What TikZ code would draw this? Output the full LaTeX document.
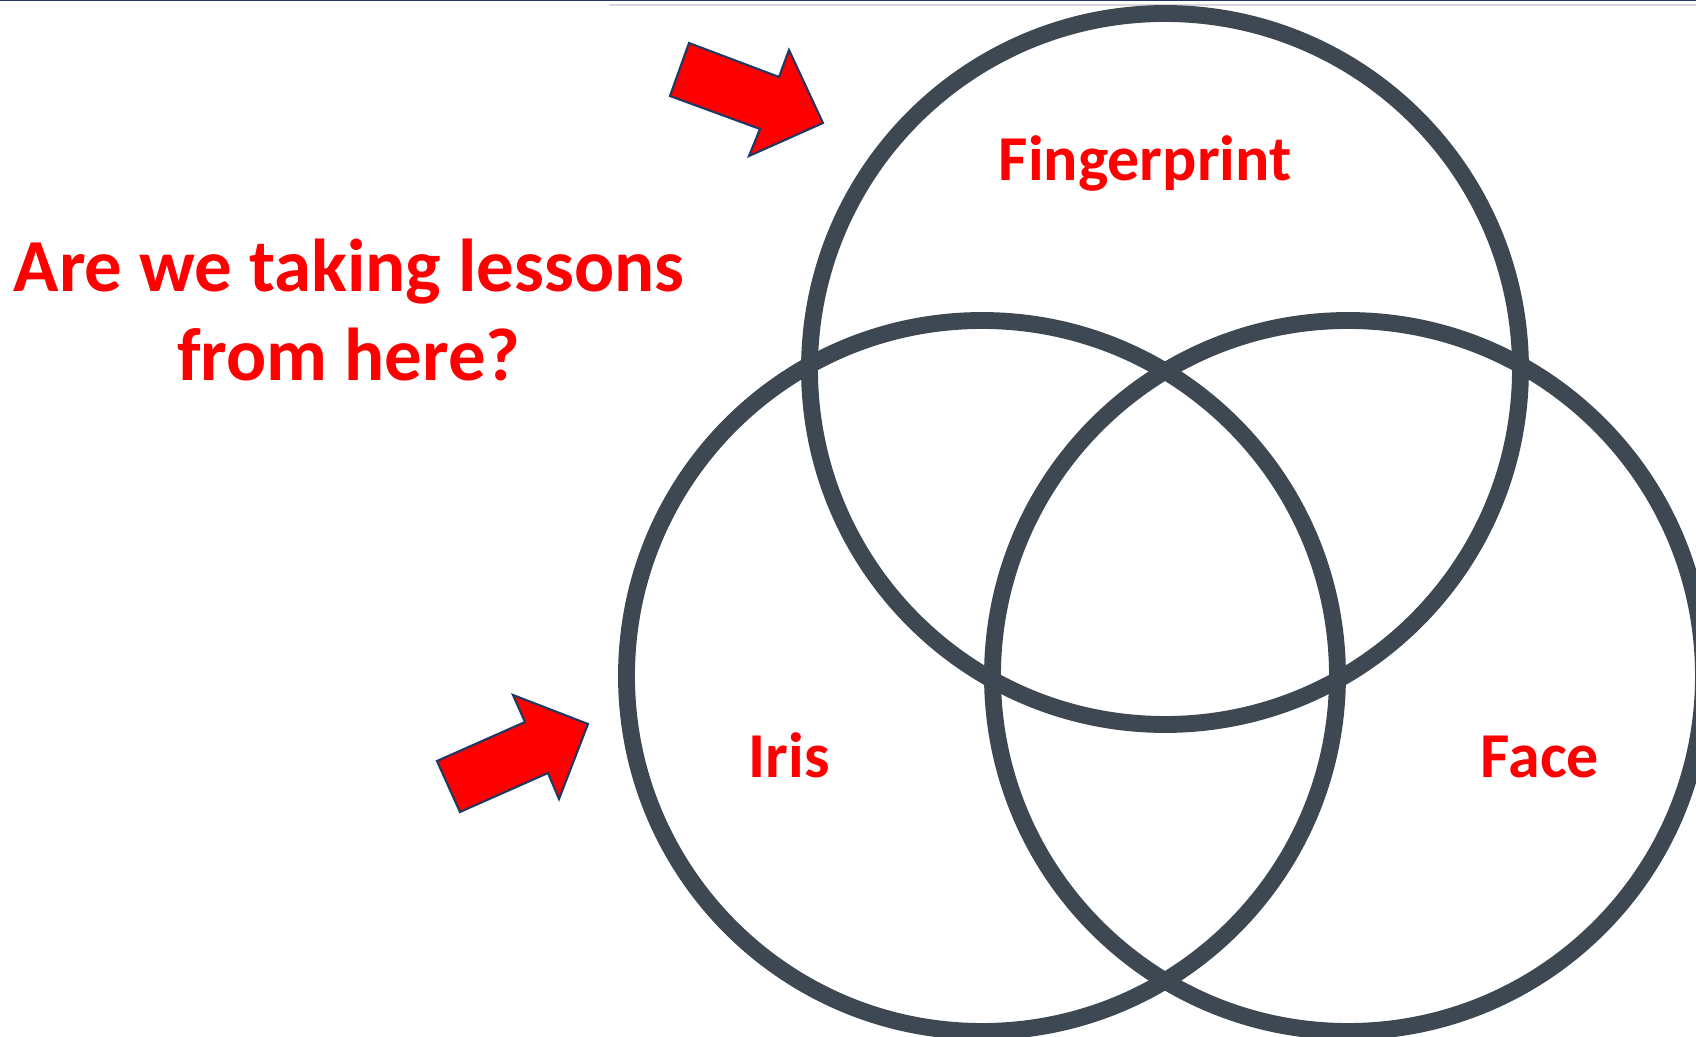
\documentclass[tikz,border=0pt]{standalone}
\usepackage{fontspec}
\setmainfont{Carlito}
\usetikzlibrary{positioning}
\definecolor{ringgray}{HTML}{3D4852}
\definecolor{alert}{HTML}{FF0000}
\definecolor{navy}{HTML}{1F3864}
\definecolor{rulegray}{HTML}{D6D6D6}

\begin{document}
\begin{tikzpicture}[
    ring/.style={draw=ringgray, line width=4.8pt},
    setname/.style={text=alert, inner sep=0pt, anchor=base,
      font=\bfseries\fontsize{18.2}{22}\selectfont},
    pointer/.style={fill=alert, draw=navy, line width=0.6pt, line join=miter}]
  \useasboundingbox (0,0) rectangle (16.96,-10.37);
  % slide edge
  \draw[navy, line width=0.5pt] (0,-0.005) -- (16.96,-0.005);
  \draw[rulegray, line width=0.6pt] (6.09,-0.05) -- (16.96,-0.05);
  % three sets
  \coordinate (fp) at (11.65,-3.69);
  \coordinate (ir) at (9.82,-6.76);
  \coordinate (fc) at (13.48,-6.76);
  \foreach \c in {fp,ir,fc}
    \draw[ring] (\c) circle (3.555);
  \node[setname] (fplabel) at (11.45,-1.81) {Fingerprint};
  \node[setname] (irlabel) at (7.89,-7.78) {Iris};
  \node[setname] (fclabel) at (15.40,-7.78) {Face};
  % question
  \node[text=alert, inner sep=0pt, align=center,
        font=\bfseries\fontsize{21.3}{25.5}\selectfont] (question) at (3.49,-3.10)
        {Are we taking lessons\\ from here?};
  % pointers
  \draw[pointer] (6.89,-0.43) -- (7.79,-0.77) -- (7.89,-0.50) -- (8.23,-1.23)
    -- (7.49,-1.56) -- (7.60,-1.29) -- (6.70,-0.96) -- cycle;
  \draw[pointer] (4.37,-7.61) -- (5.25,-7.22) -- (5.13,-6.95) -- (5.88,-7.24)
    -- (5.59,-7.99) -- (5.48,-7.73) -- (4.60,-8.12) -- cycle;
\end{tikzpicture}
\end{document}
